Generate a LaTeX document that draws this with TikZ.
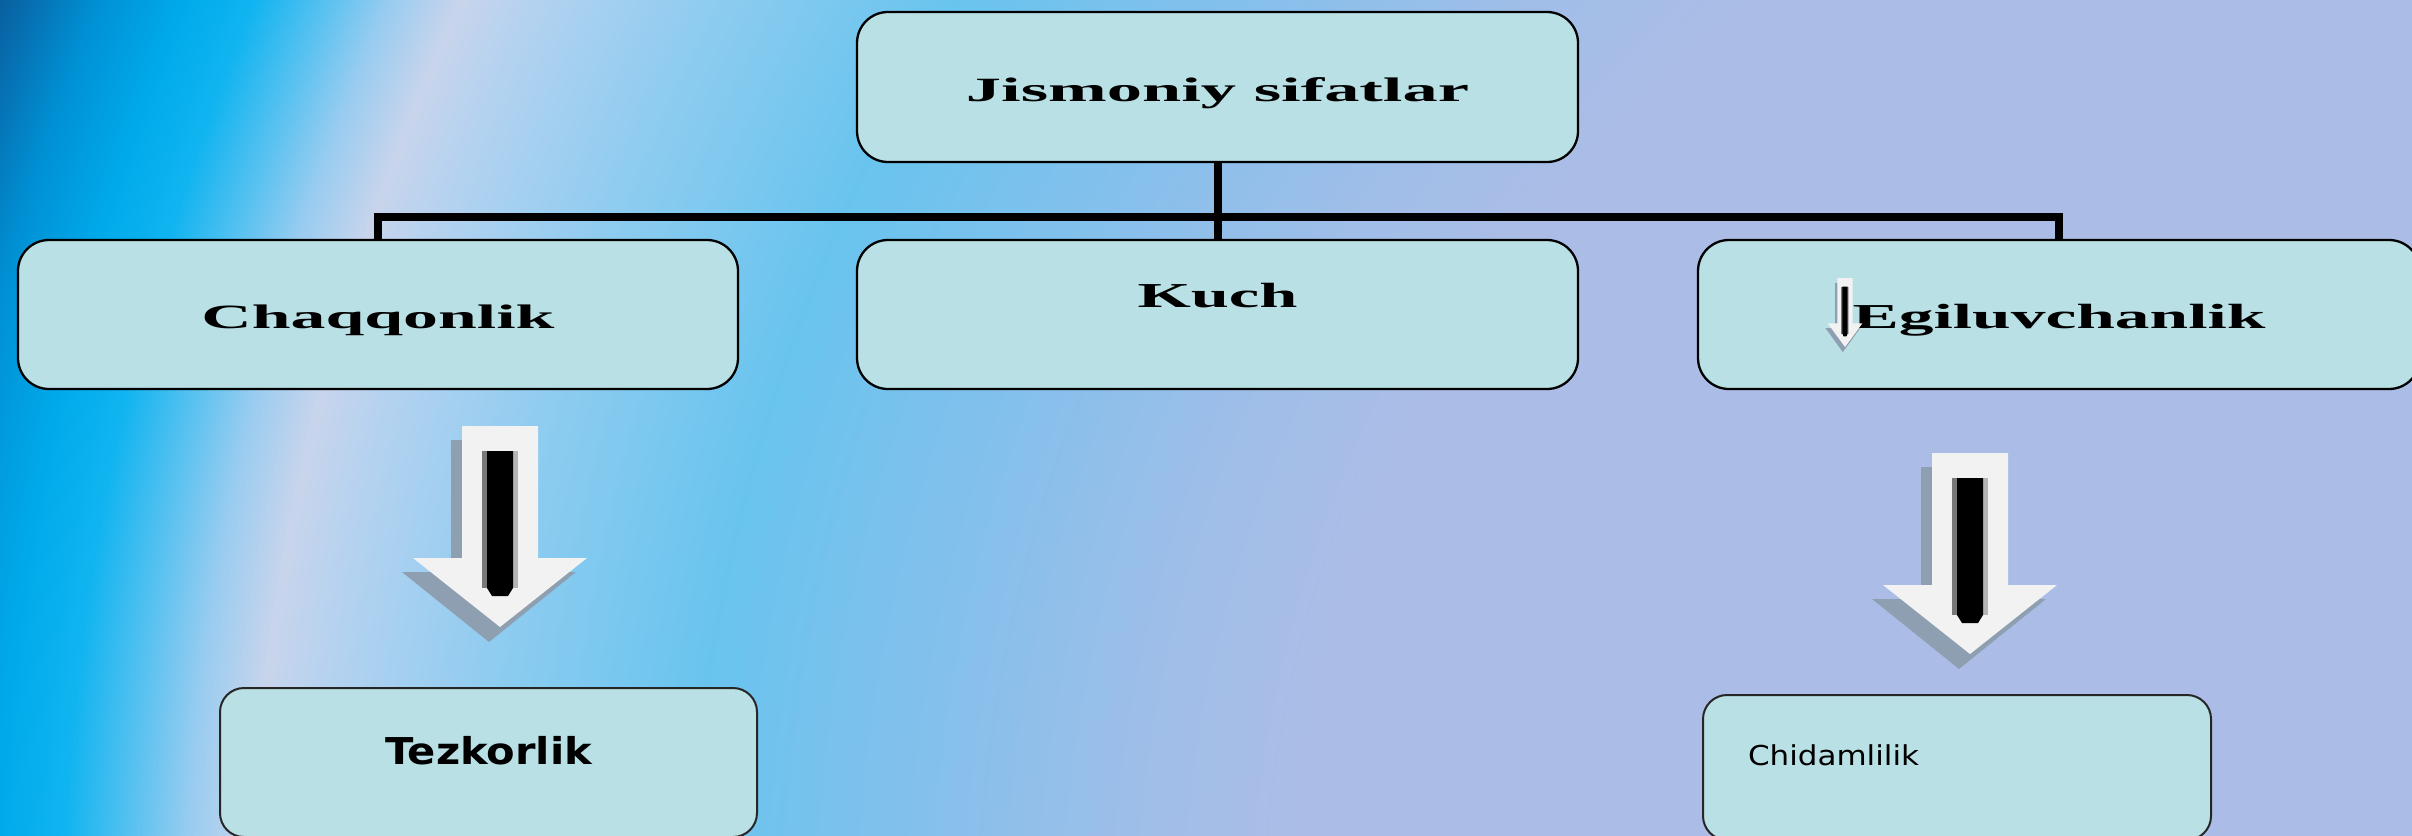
\documentclass[tikz,border=0pt]{standalone}
\usepackage{tikz}
\usepackage{graphicx}
\usepackage{fontspec}
\setmainfont{Liberation Serif}
\newfontfamily\dvs{DejaVu Sans}

\definecolor{bg0}{HTML}{ABBDE6}
\definecolor{bg1}{HTML}{A0BEE8}
\definecolor{bg2}{HTML}{84C0EC}
\definecolor{bg3}{HTML}{68C4EE}
\definecolor{bg4}{HTML}{90CCF0}
\definecolor{bg5}{HTML}{B4D2F0}
\definecolor{bg6}{HTML}{C8D4EC}
\definecolor{bg7}{HTML}{98CCF0}
\definecolor{bg8}{HTML}{50C0F0}
\definecolor{bg9}{HTML}{10B4F0}
\definecolor{bg10}{HTML}{00AAEA}
\definecolor{bg11}{HTML}{0090D4}
\definecolor{bg12}{HTML}{0A5A9A}
\definecolor{boxfill}{HTML}{B9E0E4}
\definecolor{arrowwhite}{HTML}{F2F2F2}
\definecolor{arrowshadow}{HTML}{8E9FB2}
\definecolor{bardark}{HTML}{787878}
\definecolor{barlight}{HTML}{B4B4B4}

\pgfdeclareradialshading{bgshade}{\pgfpoint{0bp}{0bp}}{%
color(0bp)=(bg0); color(11.11bp)=(bg0); color(12.5bp)=(bg1);
color(14.63bp)=(bg2); color(16.76bp)=(bg3); color(18.8bp)=(bg4);
color(20.2bp)=(bg5); color(20.8bp)=(bg6); color(21.4bp)=(bg7);
color(22.0bp)=(bg8); color(22.55bp)=(bg9); color(23.15bp)=(bg10);
color(23.89bp)=(bg11); color(24.81bp)=(bg12); color(25bp)=(bg12);
color(50bp)=(bg12)}

\newcommand{\sttext}[2]{\resizebox{#1}{\height}{#2}}

\tikzset{
  blockarrow/.pic={
    \fill[arrowshadow] (-49,14) -- (27,14) -- (27,146) -- (76,146) -- (-11,216) -- (-98,146) -- (-49,146) -- cycle;
    \fill[arrowwhite] (-38,0) -- (38,0) -- (38,132) -- (87,132) -- (0,201) -- (-87,132) -- (-38,132) -- cycle;
    \fill[bardark] (-18,25) rectangle (-12,162);
    \fill[barlight] (12,25) rectangle (18,162);
    \fill[black] (-13,25) -- (13,25) -- (13,162) -- (8,170) -- (-8,170) -- (-13,162) -- cycle;
  }
}

\begin{document}
\begin{tikzpicture}[x=0.5pt,y=-0.5pt,
  box/.style={draw=black, line width=1.15pt, rounded corners=15.5pt, fill=boxfill,
    inner sep=0pt, minimum height=74.5pt},
  lowbox/.style={draw=black!85, line width=1pt, rounded corners=12pt, fill=boxfill,
    inner sep=0pt},
  conn/.style={draw=black, line width=4pt, line join=miter}]
\useasboundingbox (0,0) rectangle (2412,835);

% background
\begin{scope}
  \clip (0,0) rectangle (2412,835);
  \shade[shading=bgshade] (2497,949) circle [radius=1350pt];
\end{scope}

% boxes
\node[box, minimum width=360.5pt, minimum height=75pt, text height=14pt, text depth=0pt]
  (top) at (1217.5,87)
  {\sttext{251.5pt}{\fontsize{17pt}{20pt}\selectfont\bfseries Jismoniy sifatlar}};
\node[box, minimum width=360pt, text height=13.5pt, text depth=0pt]
  (chaq) at (378,314.5)
  {\sttext{176.5pt}{\fontsize{17pt}{20pt}\selectfont\bfseries Chaqqonlik}};
\node[box, minimum width=360.5pt, text height=0pt, text depth=7.5pt]
  (kuch) at (1217.5,314.5)
  {\sttext{80pt}{\fontsize{17.5pt}{20pt}\selectfont\bfseries Kuch}};
\node[box, minimum width=361pt, text height=13.5pt, text depth=0pt]
  (egil) at (2059,314.5)
  {\sttext{206.5pt}{\fontsize{17.5pt}{20pt}\selectfont\bfseries Egiluvchanlik}};
\node[lowbox, minimum width=268.5pt, minimum height=74.5pt, text height=1.5pt, text depth=0pt]
  (tez) at (488.5,762.5)
  {\sttext{103.5pt}{\fontsize{18.5pt}{20pt}\selectfont\dvs\bfseries Tezkorlik}};
\node[lowbox, minimum width=254pt, minimum height=72.5pt, text width=209pt, align=left,
  text height=0pt, text depth=2.5pt]
  (chid) at (1957,767.5)
  {\sttext{85.5pt}{\fontsize{13.7pt}{16pt}\selectfont\dvs Chidamlilik}};

% connectors
\coordinate (bus) at (1217.5,217);
\draw[conn] (top.south) -- (kuch.north);
\draw[conn] (chaq.north) |- (bus) -| (egil.north);

% block arrows
\pic at (500,426) {blockarrow};
\pic at (1970,453) {blockarrow};
\pic[xscale=0.2, yscale=0.343] at (1845,278) {blockarrow};
\end{tikzpicture}
\end{document}
